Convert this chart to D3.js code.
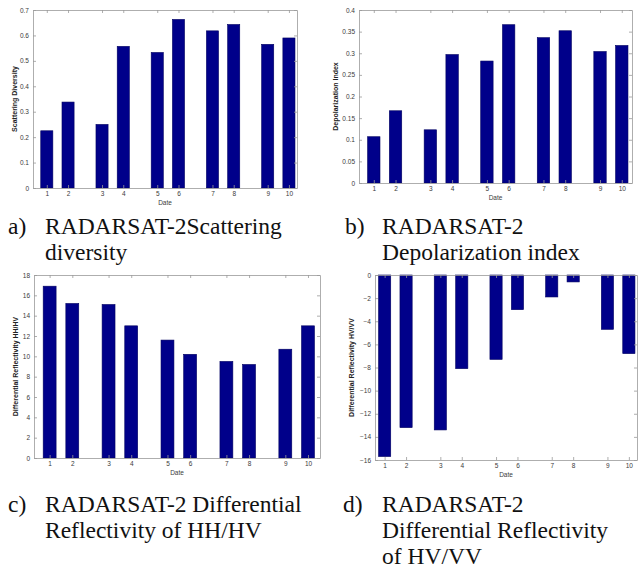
<!DOCTYPE html>
<html>
<head>
<meta charset="utf-8">
<script src="https://cdn.jsdelivr.net/npm/d3@7"></script>
<style>
  body { margin: 0; background: #fff; }
  svg { display: block; }
  .tick text { font-family: Arial, "Liberation Sans", sans-serif; font-size: 6.5px; fill: #3a3a3a; }
  .axis path, .axis line { stroke: #999; stroke-width: 0.8; }
  .ylab { font-family: Arial, "Liberation Sans", sans-serif; font-size: 7px; font-weight: bold; fill: #222; }
  .xlab { font-family: Arial, "Liberation Sans", sans-serif; font-size: 6.5px; fill: #3a3a3a; }
  .cap { font-family: "Liberation Serif", "Times New Roman", serif; font-size: 23.5px; fill: #111; }
</style>
</head>
<body>
<div id="chart"></div>
<script>
// Dates (categories) and their x positions in the original plots
var dates = ['1','2','3','4','5','6','7','8','9','10'];
var xPos = [1, 2, 3.6, 4.6, 6.2, 7.2, 8.8, 9.8, 11.4, 12.4];

// Series values
var scatterDiversity = [0.225, 0.338, 0.250, 0.557, 0.533, 0.663, 0.618, 0.643, 0.565, 0.590];
var depolIndex = [0.107, 0.167, 0.123, 0.297, 0.282, 0.366, 0.336, 0.352, 0.304, 0.318];
var diffReflHHHV = [16.9, 15.2, 15.1, 13.0, 11.6, 10.2, 9.5, 9.2, 10.7, 13.0];
var diffReflHVVV = [-15.7, -13.2, -13.4, -8.1, -7.3, -3.0, -1.9, -0.6, -4.7, -6.8];

// Y tick values
var ticksA = [0, 0.1, 0.2, 0.3, 0.4, 0.5, 0.6, 0.7];
var ticksB = [0, 0.05, 0.1, 0.15, 0.2, 0.25, 0.3, 0.35, 0.4];
var ticksC = [0, 2, 4, 6, 8, 10, 12, 14, 16, 18];
var ticksD = [-16, -14, -12, -10, -8, -6, -4, -2, 0];

var W = 639, H = 572;
var svg = d3.select('#chart').append('svg').attr('width', W).attr('height', H);

var panels = [
  {vals: scatterDiversity, ticks: ticksA, yDom: [0, 0.7], ylab: 'Scattering Diversity',
   l: 33, r: 297, t: 10, b: 188, xDom: [0.35, 12.78], ylx: 15,
   cap: ['RADARSAT-2Scattering', 'diversity'], tag: 'a)', cx: 8, ctx: 45, cy: 234},
  {vals: depolIndex, ticks: ticksB, yDom: [0, 0.4], ylab: 'Depolarization Index',
   l: 359, r: 632, t: 10, b: 183, xDom: [0.32, 12.87], ylx: 336,
   cap: ['RADARSAT-2', 'Depolarization index'], tag: 'b)', cx: 345, ctx: 382, cy: 234},
  {vals: diffReflHHHV, ticks: ticksC, yDom: [0, 18], ylab: 'Differential Reflectivity HH/HV',
   l: 34, r: 320, t: 275, b: 458, xDom: [0.31, 12.93], ylx: 16,
   cap: ['RADARSAT-2 Differential', 'Reflectivity of HH/HV'], tag: 'c)', cx: 8, ctx: 45, cy: 512},
  {vals: diffReflHVVV, ticks: ticksD, yDom: [-16, 0], ylab: 'Differential Reflectivity HV/VV',
   l: 375, r: 637, t: 275, b: 460, xDom: [0.55, 12.78], ylx: 352,
   cap: ['RADARSAT-2', 'Differential Reflectivity', 'of HV/VV'], tag: 'd)', cx: 343, ctx: 382, cy: 512}
];

panels.forEach(function(p) {
  var x = d3.scaleLinear().domain(p.xDom).range([p.l, p.r]);
  var y = d3.scaleLinear().domain(p.yDom).range([p.b, p.t]);
  var g = svg.append('g');

  // bars
  g.selectAll('rect')
    .data(p.vals)
    .enter().append('rect')
    .attr('x', function(d, i) { return x(xPos[i] - 0.285); })
    .attr('width', function() { return x(0.57) - x(0); })
    .attr('y', function(d) { return y(Math.max(0, d)); })
    .attr('height', function(d) { return Math.abs(y(d) - y(0)); })
    .attr('fill', '#00008a')
    .attr('stroke', '#000060')
    .attr('stroke-width', 0.6);

  // axes, ticks pointing inward on all four sides
  g.append('g').attr('class', 'axis')
    .attr('transform', 'translate(0,' + p.b + ')')
    .call(d3.axisBottom(x).tickValues(xPos).tickFormat(function(d, i) { return dates[i]; })
      .tickSizeInner(-3).tickSizeOuter(0).tickPadding(3));
  g.append('g').attr('class', 'axis')
    .attr('transform', 'translate(0,' + p.t + ')')
    .call(d3.axisTop(x).tickValues(xPos).tickFormat('').tickSizeInner(-3).tickSizeOuter(0));
  g.append('g').attr('class', 'axis')
    .attr('transform', 'translate(' + p.l + ',0)')
    .call(d3.axisLeft(y).tickValues(p.ticks).tickFormat(d3.format('~g'))
      .tickSizeInner(-3).tickSizeOuter(0).tickPadding(4));
  g.append('g').attr('class', 'axis')
    .attr('transform', 'translate(' + p.r + ',0)')
    .call(d3.axisRight(y).tickValues(p.ticks).tickFormat('').tickSizeInner(-3).tickSizeOuter(0));

  // axis labels
  g.append('text').attr('class', 'xlab')
    .attr('x', (p.l + p.r) / 2).attr('y', p.b + 17)
    .attr('text-anchor', 'middle').text('Date');
  g.append('text').attr('class', 'ylab')
    .attr('transform', 'translate(' + p.ylx + ',' + ((p.t + p.b) / 2) + ')rotate(-90)')
    .attr('text-anchor', 'middle').attr('dy', '0.35em').text(p.ylab);

  // caption under the panel
  svg.append('text').attr('class', 'cap').attr('x', p.cx).attr('y', p.cy).text(p.tag);
  p.cap.forEach(function(line, i) {
    svg.append('text').attr('class', 'cap')
      .attr('x', p.ctx).attr('y', p.cy + i * 26).text(line);
  });
});
</script>
</body>
</html>
